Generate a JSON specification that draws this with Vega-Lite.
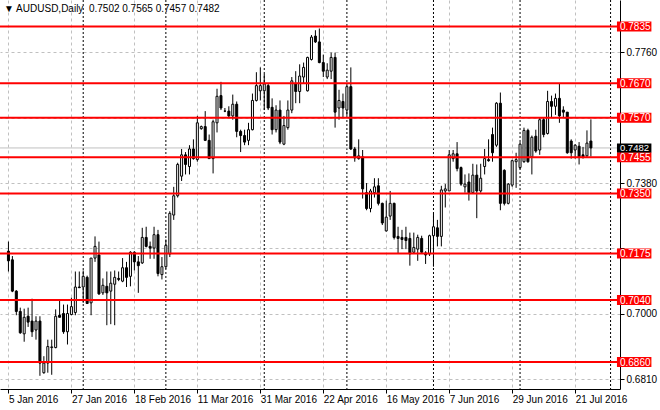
{
  "$schema": "https://vega.github.io/schema/vega-lite/v6.json",
  "autosize": {"type": "none"},
  "width": 620,
  "height": 389,
  "padding": {"left": 0, "top": 0, "right": 40, "bottom": 21},
  "background": "white",
  "title": {
    "text": "▼ AUDUSD,Daily \u00a00.7502 0.7565 0.7457 0.7482",
    "anchor": "start",
    "frame": "group",
    "offset": -14,
    "dx": 4,
    "font": "Liberation Sans",
    "fontSize": 10,
    "fontWeight": "normal",
    "color": "black"
  },
  "datasets": {
    "candles": [
      {"i":0,"o":0.7182,"h":0.7210,"l":0.7123,"c":0.7154},
      {"i":1,"o":0.7157,"h":0.7168,"l":0.7063,"c":0.7066},
      {"i":2,"o":0.7066,"h":0.7069,"l":0.6996,"c":0.7007},
      {"i":3,"o":0.7007,"h":0.7018,"l":0.6942,"c":0.6945},
      {"i":4,"o":0.6942,"h":0.7015,"l":0.6919,"c":0.6990},
      {"i":5,"o":0.6993,"h":0.7018,"l":0.6962,"c":0.6976},
      {"i":6,"o":0.6979,"h":0.7044,"l":0.6933,"c":0.6948},
      {"i":7,"o":0.6953,"h":0.6993,"l":0.6925,"c":0.6979},
      {"i":8,"o":0.6979,"h":0.6993,"l":0.6820,"c":0.6857},
      {"i":9,"o":0.6829,"h":0.6877,"l":0.6826,"c":0.6857},
      {"i":10,"o":0.6857,"h":0.6925,"l":0.6829,"c":0.6905},
      {"i":11,"o":0.6902,"h":0.6925,"l":0.6823,"c":0.6904},
      {"i":12,"o":0.6902,"h":0.7013,"l":0.6900,"c":0.6993},
      {"i":13,"o":0.6996,"h":0.7041,"l":0.6990,"c":0.6990},
      {"i":14,"o":0.7001,"h":0.7027,"l":0.6942,"c":0.6948},
      {"i":15,"o":0.6948,"h":0.7027,"l":0.6911,"c":0.7001},
      {"i":16,"o":0.6998,"h":0.7047,"l":0.6996,"c":0.7021},
      {"i":17,"o":0.7004,"h":0.7123,"l":0.6996,"c":0.7078},
      {"i":18,"o":0.7078,"h":0.7123,"l":0.7075,"c":0.7076},
      {"i":19,"o":0.7078,"h":0.7126,"l":0.7032,"c":0.7109},
      {"i":20,"o":0.7106,"h":0.7111,"l":0.7030,"c":0.7030},
      {"i":21,"o":0.7032,"h":0.7162,"l":0.6996,"c":0.7162},
      {"i":22,"o":0.7162,"h":0.7225,"l":0.7151,"c":0.7196},
      {"i":23,"o":0.7171,"h":0.7210,"l":0.7055,"c":0.7058},
      {"i":24,"o":0.7061,"h":0.7103,"l":0.7055,"c":0.7083},
      {"i":25,"o":0.7080,"h":0.7123,"l":0.6967,"c":0.7061},
      {"i":26,"o":0.7066,"h":0.7123,"l":0.6970,"c":0.7089},
      {"i":27,"o":0.7086,"h":0.7126,"l":0.6967,"c":0.7106},
      {"i":28,"o":0.7103,"h":0.7123,"l":0.7095,"c":0.7100},
      {"i":29,"o":0.7095,"h":0.7162,"l":0.7092,"c":0.7134},
      {"i":30,"o":0.7134,"h":0.7151,"l":0.7078,"c":0.7106},
      {"i":31,"o":0.7109,"h":0.7182,"l":0.7080,"c":0.7179},
      {"i":32,"o":0.7179,"h":0.7182,"l":0.7126,"c":0.7151},
      {"i":33,"o":0.7151,"h":0.7168,"l":0.7061,"c":0.7140},
      {"i":34,"o":0.7148,"h":0.7250,"l":0.7145,"c":0.7222},
      {"i":35,"o":0.7222,"h":0.7253,"l":0.7193,"c":0.7196},
      {"i":36,"o":0.7196,"h":0.7210,"l":0.7160,"c":0.7191},
      {"i":37,"o":0.7191,"h":0.7253,"l":0.7160,"c":0.7230},
      {"i":38,"o":0.7230,"h":0.7244,"l":0.7109,"c":0.7117},
      {"i":39,"o":0.7114,"h":0.7165,"l":0.7100,"c":0.7137},
      {"i":40,"o":0.7137,"h":0.7216,"l":0.7131,"c":0.7199},
      {"i":41,"o":0.7174,"h":0.7298,"l":0.7165,"c":0.7292},
      {"i":42,"o":0.7287,"h":0.7369,"l":0.7273,"c":0.7343},
      {"i":43,"o":0.7343,"h":0.7439,"l":0.7338,"c":0.7434},
      {"i":44,"o":0.7400,"h":0.7479,"l":0.7386,"c":0.7462},
      {"i":45,"o":0.7462,"h":0.7470,"l":0.7405,"c":0.7434},
      {"i":46,"o":0.7428,"h":0.7490,"l":0.7405,"c":0.7479},
      {"i":47,"o":0.7479,"h":0.7507,"l":0.7448,"c":0.7451},
      {"i":48,"o":0.7448,"h":0.7575,"l":0.7442,"c":0.7555},
      {"i":49,"o":0.7538,"h":0.7547,"l":0.7535,"c":0.7544},
      {"i":50,"o":0.7544,"h":0.7589,"l":0.7502,"c":0.7504},
      {"i":51,"o":0.7504,"h":0.7521,"l":0.7451,"c":0.7451},
      {"i":52,"o":0.7451,"h":0.7564,"l":0.7408,"c":0.7558},
      {"i":53,"o":0.7555,"h":0.7654,"l":0.7527,"c":0.7632},
      {"i":54,"o":0.7634,"h":0.7674,"l":0.7592,"c":0.7598},
      {"i":55,"o":0.7589,"h":0.7598,"l":0.7586,"c":0.7589},
      {"i":56,"o":0.7589,"h":0.7603,"l":0.7569,"c":0.7575},
      {"i":57,"o":0.7575,"h":0.7637,"l":0.7564,"c":0.7609},
      {"i":58,"o":0.7609,"h":0.7617,"l":0.7513,"c":0.7530},
      {"i":59,"o":0.7530,"h":0.7535,"l":0.7470,"c":0.7518},
      {"i":60,"o":0.7518,"h":0.7535,"l":0.7490,"c":0.7499},
      {"i":61,"o":0.7504,"h":0.7555,"l":0.7490,"c":0.7535},
      {"i":62,"o":0.7535,"h":0.7640,"l":0.7533,"c":0.7620},
      {"i":63,"o":0.7620,"h":0.7702,"l":0.7617,"c":0.7663},
      {"i":64,"o":0.7648,"h":0.7716,"l":0.7620,"c":0.7663},
      {"i":65,"o":0.7648,"h":0.7697,"l":0.7592,"c":0.7668},
      {"i":66,"o":0.7663,"h":0.7668,"l":0.7592,"c":0.7598},
      {"i":67,"o":0.7600,"h":0.7626,"l":0.7521,"c":0.7535},
      {"i":68,"o":0.7535,"h":0.7606,"l":0.7527,"c":0.7592},
      {"i":69,"o":0.7592,"h":0.7620,"l":0.7493,"c":0.7499},
      {"i":70,"o":0.7493,"h":0.7575,"l":0.7490,"c":0.7547},
      {"i":71,"o":0.7541,"h":0.7620,"l":0.7535,"c":0.7592},
      {"i":72,"o":0.7592,"h":0.7688,"l":0.7583,"c":0.7677},
      {"i":73,"o":0.7668,"h":0.7705,"l":0.7612,"c":0.7646},
      {"i":74,"o":0.7646,"h":0.7725,"l":0.7612,"c":0.7691},
      {"i":75,"o":0.7688,"h":0.7730,"l":0.7668,"c":0.7716},
      {"i":76,"o":0.7648,"h":0.7747,"l":0.7646,"c":0.7745},
      {"i":77,"o":0.7739,"h":0.7810,"l":0.7736,"c":0.7804},
      {"i":78,"o":0.7807,"h":0.7824,"l":0.7787,"c":0.7790},
      {"i":79,"o":0.7790,"h":0.7829,"l":0.7728,"c":0.7730},
      {"i":80,"o":0.7730,"h":0.7753,"l":0.7688,"c":0.7705},
      {"i":81,"o":0.7688,"h":0.7728,"l":0.7682,"c":0.7708},
      {"i":82,"o":0.7705,"h":0.7759,"l":0.7682,"c":0.7745},
      {"i":83,"o":0.7745,"h":0.7759,"l":0.7541,"c":0.7586},
      {"i":84,"o":0.7598,"h":0.7651,"l":0.7564,"c":0.7620},
      {"i":85,"o":0.7617,"h":0.7640,"l":0.7569,"c":0.7598},
      {"i":86,"o":0.7592,"h":0.7663,"l":0.7575,"c":0.7660},
      {"i":87,"o":0.7660,"h":0.7716,"l":0.7476,"c":0.7479},
      {"i":88,"o":0.7479,"h":0.7485,"l":0.7442,"c":0.7453},
      {"i":89,"o":0.7451,"h":0.7507,"l":0.7448,"c":0.7459},
      {"i":90,"o":0.7456,"h":0.7476,"l":0.7335,"c":0.7363},
      {"i":91,"o":0.7352,"h":0.7380,"l":0.7301,"c":0.7306},
      {"i":92,"o":0.7306,"h":0.7363,"l":0.7295,"c":0.7357},
      {"i":93,"o":0.7352,"h":0.7394,"l":0.7338,"c":0.7369},
      {"i":94,"o":0.7372,"h":0.7394,"l":0.7315,"c":0.7321},
      {"i":95,"o":0.7321,"h":0.7323,"l":0.7258,"c":0.7264},
      {"i":96,"o":0.7241,"h":0.7329,"l":0.7239,"c":0.7281},
      {"i":97,"o":0.7284,"h":0.7357,"l":0.7273,"c":0.7321},
      {"i":98,"o":0.7321,"h":0.7323,"l":0.7216,"c":0.7222},
      {"i":99,"o":0.7225,"h":0.7253,"l":0.7174,"c":0.7219},
      {"i":100,"o":0.7222,"h":0.7244,"l":0.7188,"c":0.7216},
      {"i":101,"o":0.7222,"h":0.7253,"l":0.7188,"c":0.7213},
      {"i":102,"o":0.7219,"h":0.7236,"l":0.7140,"c":0.7174},
      {"i":103,"o":0.7179,"h":0.7236,"l":0.7174,"c":0.7193},
      {"i":104,"o":0.7188,"h":0.7230,"l":0.7154,"c":0.7222},
      {"i":105,"o":0.7219,"h":0.7227,"l":0.7174,"c":0.7179},
      {"i":106,"o":0.7177,"h":0.7182,"l":0.7145,"c":0.7171},
      {"i":107,"o":0.7174,"h":0.7230,"l":0.7168,"c":0.7227},
      {"i":108,"o":0.7227,"h":0.7292,"l":0.7137,"c":0.7253},
      {"i":109,"o":0.7250,"h":0.7273,"l":0.7196,"c":0.7225},
      {"i":110,"o":0.7225,"h":0.7372,"l":0.7196,"c":0.7360},
      {"i":111,"o":0.7357,"h":0.7377,"l":0.7309,"c":0.7363},
      {"i":112,"o":0.7357,"h":0.7476,"l":0.7357,"c":0.7462},
      {"i":113,"o":0.7451,"h":0.7476,"l":0.7442,"c":0.7465},
      {"i":114,"o":0.7465,"h":0.7499,"l":0.7414,"c":0.7422},
      {"i":115,"o":0.7425,"h":0.7428,"l":0.7372,"c":0.7377},
      {"i":116,"o":0.7369,"h":0.7405,"l":0.7352,"c":0.7377},
      {"i":117,"o":0.7383,"h":0.7408,"l":0.7329,"c":0.7352},
      {"i":118,"o":0.7352,"h":0.7436,"l":0.7349,"c":0.7403},
      {"i":119,"o":0.7403,"h":0.7434,"l":0.7278,"c":0.7357},
      {"i":120,"o":0.7357,"h":0.7436,"l":0.7352,"c":0.7394},
      {"i":121,"o":0.7428,"h":0.7479,"l":0.7405,"c":0.7451},
      {"i":122,"o":0.7448,"h":0.7507,"l":0.7442,"c":0.7445},
      {"i":123,"o":0.7521,"h":0.7541,"l":0.7442,"c":0.7468},
      {"i":124,"o":0.7490,"h":0.7615,"l":0.7485,"c":0.7612},
      {"i":125,"o":0.7612,"h":0.7643,"l":0.7301,"c":0.7321},
      {"i":126,"o":0.7417,"h":0.7420,"l":0.7315,"c":0.7321},
      {"i":127,"o":0.7321,"h":0.7380,"l":0.7318,"c":0.7377},
      {"i":128,"o":0.7374,"h":0.7448,"l":0.7369,"c":0.7445},
      {"i":129,"o":0.7442,"h":0.7468,"l":0.7366,"c":0.7448},
      {"i":130,"o":0.7425,"h":0.7499,"l":0.7420,"c":0.7493},
      {"i":131,"o":0.7442,"h":0.7541,"l":0.7439,"c":0.7533},
      {"i":132,"o":0.7533,"h":0.7538,"l":0.7439,"c":0.7442},
      {"i":133,"o":0.7456,"h":0.7518,"l":0.7405,"c":0.7513},
      {"i":134,"o":0.7516,"h":0.7535,"l":0.7468,"c":0.7473},
      {"i":135,"o":0.7476,"h":0.7569,"l":0.7462,"c":0.7564},
      {"i":136,"o":0.7564,"h":0.7569,"l":0.7513,"c":0.7521},
      {"i":137,"o":0.7524,"h":0.7648,"l":0.7521,"c":0.7617},
      {"i":138,"o":0.7617,"h":0.7634,"l":0.7569,"c":0.7603},
      {"i":139,"o":0.7603,"h":0.7640,"l":0.7578,"c":0.7626},
      {"i":140,"o":0.7626,"h":0.7668,"l":0.7555,"c":0.7575},
      {"i":141,"o":0.7592,"h":0.7603,"l":0.7569,"c":0.7586},
      {"i":142,"o":0.7586,"h":0.7586,"l":0.7465,"c":0.7468},
      {"i":143,"o":0.7502,"h":0.7507,"l":0.7451,"c":0.7468},
      {"i":144,"o":0.7476,"h":0.7493,"l":0.7451,"c":0.7490},
      {"i":145,"o":0.7487,"h":0.7499,"l":0.7434,"c":0.7456},
      {"i":146,"o":0.7462,"h":0.7485,"l":0.7451,"c":0.7456},
      {"i":147,"o":0.7459,"h":0.7533,"l":0.7456,"c":0.7496},
      {"i":148,"o":0.7502,"h":0.7565,"l":0.7457,"c":0.7482}
    ],
    "months": [
      {"month": "Feb", "i": 19},
      {"month": "Mar", "i": 40},
      {"month": "Apr", "i": 65},
      {"month": "May", "i": 86},
      {"month": "Jun", "i": 108},
      {"month": "Jul", "i": 130},
      {"month": "Aug", "i": 153}
    ],
    "levels": [
      {"price": 0.7835},
      {"price": 0.7670},
      {"price": 0.7570},
      {"price": 0.7455},
      {"price": 0.7350},
      {"price": 0.7175},
      {"price": 0.7040},
      {"price": 0.6860}
    ],
    "bid": [
      {"price": 0.7482}
    ]
  },
  "layer": [
    {
      "data": {"name": "months"},
      "mark": {"type": "rule", "color": "black", "strokeWidth": 1, "strokeDash": [2, 2]},
      "encoding": {
        "x": {
          "field": "i",
          "type": "quantitative",
          "scale": {"domain": [-0.875, 154.125], "nice": false, "zero": false},
          "axis": {
            "orient": "bottom",
            "values": [0, 8, 16, 24, 32, 40, 48, 56, 64, 72, 80, 88, 96, 104, 112, 120, 128, 136, 144, 152],
            "grid": true,
            "gridColor": "#c0c0c0",
            "gridDash": [3, 3],
            "gridWidth": 1,
            "domainColor": "black",
            "tickColor": "black",
            "tickOpacity": {"condition": {"test": "datum.value % 16 === 0", "value": 1}, "value": 0},
            "tickSize": 4,
            "labelExpr": "datum.value % 16 === 0 ? ['5 Jan 2016','27 Jan 2016','18 Feb 2016','11 Mar 2016','31 Mar 2016','22 Apr 2016','16 May 2016','7 Jun 2016','29 Jun 2016','21 Jul 2016'][datum.value / 16] : ''",
            "labelAlign": "left",
            "labelBaseline": "top",
            "labelPadding": 1,
            "labelDx": -1,
            "labelOverlap": false,
            "labelFlush": false,
            "title": null
          }
        }
      }
    },
    {
      "data": {"name": "bid"},
      "mark": {"type": "rule", "color": "#c0c0c0", "strokeWidth": 1},
      "encoding": {
        "y": {
          "field": "price",
          "type": "quantitative",
          "scale": {"domain": [0.67962, 0.789727], "nice": false, "zero": false},
          "axis": {
            "orient": "right",
            "values": [0.6810, 0.6905, 0.7000, 0.7095, 0.7190, 0.7285, 0.7380, 0.7475, 0.7570, 0.7665, 0.7760, 0.7855],
            "format": ".4f",
            "labelExpr": "indexof(['0.7190', '0.7475', '0.7570', '0.7665'], datum.label) >= 0 ? '' : datum.label",
            "grid": true,
            "gridColor": "#c0c0c0",
            "gridDash": [3, 3],
            "gridWidth": 1,
            "domainColor": "black",
            "tickColor": "black",
            "tickSize": 4,
            "labelAlign": "left",
            "labelBaseline": "middle",
            "labelPadding": 2,
            "labelOverlap": false,
            "labelFlush": false,
            "title": null
          }
        }
      }
    },
    {
      "data": {"name": "candles"},
      "mark": {"type": "rule", "color": "black", "strokeWidth": 1},
      "encoding": {
        "x": {"field": "i", "type": "quantitative"},
        "y": {"field": "l", "type": "quantitative"},
        "y2": {"field": "h"}
      }
    },
    {
      "data": {"name": "candles"},
      "mark": {"type": "bar", "size": 2, "stroke": "black", "strokeWidth": 1},
      "encoding": {
        "x": {"field": "i", "type": "quantitative"},
        "y": {"field": "o", "type": "quantitative"},
        "y2": {"field": "c"},
        "fill": {"condition": {"test": "datum.c >= datum.o", "value": "white"}, "value": "black"}
      }
    },
    {
      "data": {"name": "levels"},
      "mark": {"type": "rule", "color": "#ff0000", "strokeWidth": 2},
      "encoding": {
        "y": {"field": "price", "type": "quantitative"}
      }
    },
    {
      "data": {"name": "levels"},
      "mark": {"type": "bar", "orient": "horizontal", "size": 10, "color": "#ff0000"},
      "encoding": {
        "x": {"datum": 154.625, "type": "quantitative"},
        "x2": {"datum": 163.375},
        "y": {"field": "price", "type": "quantitative"}
      }
    },
    {
      "data": {"name": "bid"},
      "mark": {"type": "bar", "orient": "horizontal", "size": 9, "color": "black"},
      "encoding": {
        "x": {"datum": 154.625, "type": "quantitative"},
        "x2": {"datum": 163.375},
        "y": {"field": "price", "type": "quantitative"}
      }
    },
    {
      "data": {"name": "levels"},
      "mark": {"type": "text", "align": "left", "baseline": "middle", "color": "white", "font": "Liberation Sans", "fontSize": 10, "dy": 0.5},
      "encoding": {
        "x": {"datum": 155.375, "type": "quantitative"},
        "y": {"field": "price", "type": "quantitative"},
        "text": {"field": "price", "type": "quantitative", "format": ".4f"}
      }
    },
    {
      "data": {"name": "bid"},
      "mark": {"type": "text", "align": "left", "baseline": "middle", "color": "white", "font": "Liberation Sans", "fontSize": 9.5, "dy": 0},
      "encoding": {
        "x": {"datum": 155.375, "type": "quantitative"},
        "y": {"field": "price", "type": "quantitative"},
        "text": {"field": "price", "type": "quantitative", "format": ".4f"}
      }
    }
  ],
  "config": {
    "view": {"stroke": null},
    "axis": {
      "labelFont": "Liberation Sans",
      "labelFontSize": 10,
      "labelColor": "black",
      "domainWidth": 1,
      "tickWidth": 1
    }
  }
}
